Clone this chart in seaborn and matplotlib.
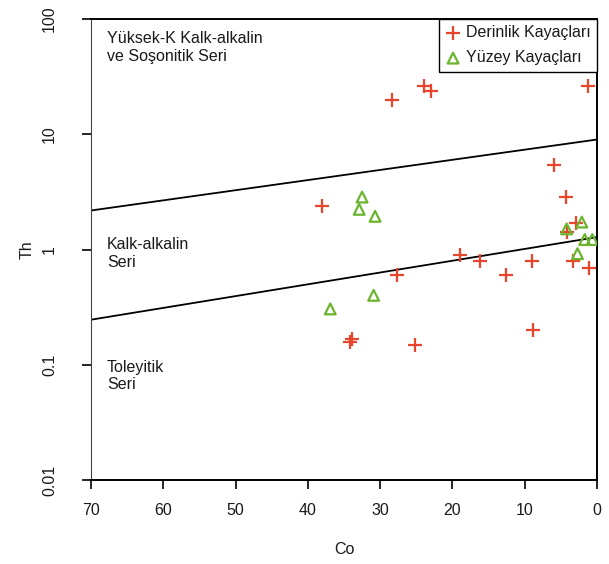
import matplotlib
matplotlib.use("Agg")
import matplotlib.pyplot as plt
import seaborn as sns
import pandas as pd
import numpy as np

# Derinlik Kayaçları (plutonic)
derin_co = [28.4, 23.9, 22.9, 1.2, 6.0, 4.3, 2.9, 4.2, 38.1, 18.9, 16.2, 12.6, 9.0, 3.3, 1.1, 27.6, 33.9, 34.2, 25.2, 8.9]
derin_th = [20.0, 26.3, 23.8, 26.1, 5.37, 2.85, 1.69, 1.41, 2.38, 0.89, 0.80, 0.60, 0.80, 0.80, 0.69, 0.60, 0.167, 0.158, 0.148, 0.20]

# Yüzey Kayaçları (volcanic)
yuzey_co = [32.5, 32.9, 30.7, 4.2, 2.1, 1.7, 0.65, 2.7, 30.9, 36.9]
yuzey_th = [2.85, 2.23, 1.94, 1.51, 1.73, 1.22, 1.22, 0.92, 0.40, 0.305]

# boundary lines
bound_co = [70, 0]
upper_th = [2.18, 9.0]
lower_th = [0.246, 1.28]

series_labels = ["Derinlik Kayaçları", "Yüzey Kayaçları"]
x_ticks = [70, 60, 50, 40, 30, 20, 10, 0]
y_ticks = [0.01, 0.1, 1, 10, 100]
y_ticklabels = ["0.01", "0.1", "1", "10", "100"]

sns.set_theme(style="white")
plt.rcParams["font.family"] = ["Liberation Sans", "DejaVu Sans"]
plt.rcParams["text.color"] = "#1a1a1a"
plt.rcParams["axes.labelcolor"] = "#1a1a1a"
plt.rcParams["xtick.color"] = "#1a1a1a"
plt.rcParams["ytick.color"] = "#1a1a1a"

FS = 11.5
fig = plt.figure(figsize=(6.09, 5.64), dpi=100)
ax = fig.add_axes([91/609, 1-480/564, (597-91)/609, (480-19)/564])

red = "#E8452C"
green = "#6BB52E"

df_d = pd.DataFrame({"Co": derin_co, "Th": derin_th})
df_y = pd.DataFrame({"Co": yuzey_co, "Th": yuzey_th})
df_b = pd.DataFrame({"Co": bound_co, "up": upper_th, "lo": lower_th})

sns.lineplot(data=df_b, x="Co", y="up", ax=ax, color="black", linewidth=1.3)
sns.lineplot(data=df_b, x="Co", y="lo", ax=ax, color="black", linewidth=1.3)

sns.scatterplot(data=df_d, x="Co", y="Th", ax=ax, marker="+", s=90, color=red,
                linewidth=1.6, label=series_labels[0], zorder=3)
sns.scatterplot(data=df_y, x="Co", y="Th", ax=ax, marker="^", s=60, facecolor="none",
                edgecolor=green, linewidth=1.6, label=series_labels[1], zorder=3)

ax.set_yscale("log")
ax.set_xlim(70, 0)
ax.set_ylim(0.01, 100)
ax.set_xticks(x_ticks)
ax.set_xticklabels([str(v) for v in x_ticks])
ax.set_yticks(y_ticks)
ax.set_yticklabels(y_ticklabels, rotation=90, va="center")
ax.minorticks_off()
ax.tick_params(axis="both", direction="out", length=6.5, width=1.2, labelsize=FS, color="black",
               bottom=True, left=True)
ax.tick_params(axis="x", pad=10)
ax.tick_params(axis="y", pad=18)
for name, sp in ax.spines.items():
    sp.set_color("black")
    sp.set_linewidth(1.4)
ax.spines["left"].set_linewidth(0.8)
ax.spines["left"].set_color("#444444")
ax.set_xlabel("Co", fontsize=FS, labelpad=17)
ax.set_ylabel("Th", fontsize=FS, labelpad=5)

ax.text(67.8, 78, "Yüksek-K Kalk-alkalin\nve Soşonitik Seri", fontsize=FS, va="top", ha="left", linespacing=1.2)
ax.text(67.8, 1.28, "Kalk-alkalin\nSeri", fontsize=FS, va="top", ha="left", linespacing=1.2)
ax.text(67.8, 0.11, "Toleyitik\nSeri", fontsize=FS, va="top", ha="left", linespacing=1.2)

leg = ax.legend(loc="upper right", borderaxespad=0, fancybox=False, edgecolor="black",
                framealpha=1, fontsize=FS, handletextpad=0.3, handlelength=1.0,
                borderpad=0.4, labelspacing=0.62)
leg.get_frame().set_linewidth(1)

fig.savefig("out.png", dpi=100)
